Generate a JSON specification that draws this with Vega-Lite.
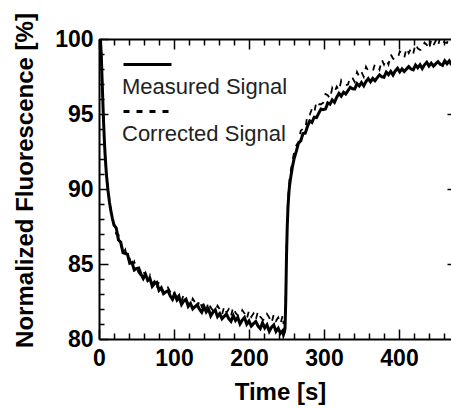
{
  "$schema": "https://vega.github.io/schema/vega-lite/v6.json",
  "width": 354,
  "height": 300,
  "autosize": {"type": "none"},
  "padding": {"left": 99, "top": 39, "right": 0, "bottom": 69},
  "background": "white",
  "config": {
    "view": {"stroke": null},
    "font": "Liberation Sans",
    "axis": {
      "grid": false,
      "domainColor": "black",
      "domainWidth": 2,
      "tickColor": "black",
      "tickWidth": 1.5,
      "labelFont": "Liberation Sans",
      "labelFontWeight": "bold",
      "labelFontSize": 23,
      "labelColor": "black",
      "labelOverlap": false,
      "labelFlush": false,
      "titleFont": "Liberation Sans",
      "titleFontWeight": "bold",
      "titleFontSize": 24,
      "titleColor": "black"
    }
  },
  "data": {
    "values": [
      {"t": 0, "m": 100, "c": 100},
      {"t": 1, "m": 100, "c": 100},
      {"t": 2, "m": 99.9, "c": 99.9},
      {"t": 3, "m": 99.0, "c": 99.0},
      {"t": 4, "m": 97.5, "c": 97.6},
      {"t": 5, "m": 96.0, "c": 96.1},
      {"t": 6, "m": 94.6, "c": 94.7},
      {"t": 7, "m": 93.4, "c": 93.5},
      {"t": 8, "m": 92.4, "c": 92.5},
      {"t": 9, "m": 91.6, "c": 91.6},
      {"t": 10, "m": 90.9, "c": 90.9},
      {"t": 12, "m": 89.9, "c": 89.9},
      {"t": 14, "m": 89.1, "c": 89.2},
      {"t": 16, "m": 88.5, "c": 88.5},
      {"t": 18, "m": 88.0, "c": 88.0},
      {"t": 20, "m": 87.6, "c": 87.6},
      {"t": 23, "m": 87.4, "c": 87.0},
      {"t": 26, "m": 86.6, "c": 86.95},
      {"t": 29, "m": 86.45, "c": 86.35},
      {"t": 32, "m": 85.75, "c": 85.7},
      {"t": 35, "m": 85.7, "c": 85.95},
      {"t": 38, "m": 85.65, "c": 85.3},
      {"t": 41, "m": 85.05, "c": 85.35},
      {"t": 44, "m": 85.1, "c": 84.75},
      {"t": 47, "m": 84.6, "c": 85.15},
      {"t": 50, "m": 84.7, "c": 84.7},
      {"t": 53, "m": 84.73, "c": 84.41},
      {"t": 56, "m": 84.32, "c": 84.22},
      {"t": 59, "m": 84.03, "c": 84.53},
      {"t": 62, "m": 84.32, "c": 84.21},
      {"t": 65, "m": 83.9, "c": 83.75},
      {"t": 68, "m": 84.03, "c": 84.23},
      {"t": 71, "m": 83.51, "c": 83.72},
      {"t": 74, "m": 83.69, "c": 83.86},
      {"t": 77, "m": 83.77, "c": 83.35},
      {"t": 80, "m": 83.25, "c": 83.84},
      {"t": 83, "m": 83.41, "c": 83.41},
      {"t": 86, "m": 83.02, "c": 83.18},
      {"t": 89, "m": 83.13, "c": 83.05},
      {"t": 92, "m": 83.22, "c": 83.42},
      {"t": 95, "m": 82.87, "c": 83.14},
      {"t": 98, "m": 82.64, "c": 82.7},
      {"t": 101, "m": 82.98, "c": 83.23},
      {"t": 104, "m": 82.6, "c": 82.76},
      {"t": 107, "m": 82.78, "c": 82.95},
      {"t": 110, "m": 82.3, "c": 82.48},
      {"t": 113, "m": 82.53, "c": 83.01},
      {"t": 116, "m": 82.65, "c": 82.6},
      {"t": 119, "m": 82.18, "c": 82.38},
      {"t": 122, "m": 82.37, "c": 82.28},
      {"t": 125, "m": 82.01, "c": 82.69},
      {"t": 128, "m": 82.16, "c": 82.44},
      {"t": 131, "m": 82.29, "c": 82.05},
      {"t": 134, "m": 81.98, "c": 82.61},
      {"t": 137, "m": 81.78, "c": 82.16},
      {"t": 140, "m": 82.15, "c": 82.37},
      {"t": 143, "m": 81.8, "c": 81.93},
      {"t": 146, "m": 82.0, "c": 82.48},
      {"t": 149, "m": 81.54, "c": 82.09},
      {"t": 152, "m": 81.79, "c": 81.9},
      {"t": 155, "m": 81.94, "c": 81.81},
      {"t": 158, "m": 81.49, "c": 82.22},
      {"t": 161, "m": 81.69, "c": 81.98},
      {"t": 164, "m": 81.35, "c": 81.61},
      {"t": 167, "m": 81.51, "c": 82.18},
      {"t": 170, "m": 81.66, "c": 81.76},
      {"t": 173, "m": 81.36, "c": 81.98},
      {"t": 176, "m": 81.18, "c": 81.55},
      {"t": 179, "m": 81.56, "c": 82.13},
      {"t": 182, "m": 81.23, "c": 81.75},
      {"t": 185, "m": 81.44, "c": 81.58},
      {"t": 188, "m": 81.0, "c": 81.5},
      {"t": 191, "m": 81.26, "c": 81.92},
      {"t": 194, "m": 81.43, "c": 81.71},
      {"t": 197, "m": 80.99, "c": 81.33},
      {"t": 200, "m": 81.2, "c": 81.9},
      {"t": 203, "m": 80.86, "c": 81.47},
      {"t": 206, "m": 81.03, "c": 81.7},
      {"t": 209, "m": 81.17, "c": 81.28},
      {"t": 212, "m": 80.87, "c": 81.85},
      {"t": 215, "m": 80.69, "c": 81.48},
      {"t": 218, "m": 81.08, "c": 81.31},
      {"t": 221, "m": 80.74, "c": 81.23},
      {"t": 224, "m": 80.95, "c": 81.66},
      {"t": 227, "m": 80.51, "c": 81.43},
      {"t": 230, "m": 80.78, "c": 81.06},
      {"t": 233, "m": 80.94, "c": 81.64},
      {"t": 236, "m": 80.5, "c": 81.21},
      {"t": 239, "m": 80.71, "c": 81.44},
      {"t": 242, "m": 80.38, "c": 81.02},
      {"t": 245, "m": 80.55, "c": 81.6},
      {"t": 246, "m": 80.3, "c": 81.0},
      {"t": 247, "m": 80.45, "c": 81.2},
      {"t": 248, "m": 80.7, "c": 81.3},
      {"t": 249, "m": 82.5, "c": 83.0},
      {"t": 250, "m": 85.5, "c": 86.0},
      {"t": 251, "m": 87.5, "c": 88.0},
      {"t": 252, "m": 88.8, "c": 89.2},
      {"t": 253, "m": 89.6, "c": 90.0},
      {"t": 254, "m": 90.2, "c": 90.6},
      {"t": 256, "m": 90.9, "c": 91.3},
      {"t": 258, "m": 91.5, "c": 91.9},
      {"t": 260, "m": 92.0, "c": 92.4},
      {"t": 263, "m": 92.5, "c": 92.9},
      {"t": 266, "m": 93.06, "c": 93.12},
      {"t": 269, "m": 93.21, "c": 93.89},
      {"t": 272, "m": 93.7, "c": 94.01},
      {"t": 275, "m": 93.72, "c": 93.98},
      {"t": 278, "m": 94.18, "c": 94.98},
      {"t": 281, "m": 94.54, "c": 94.95},
      {"t": 284, "m": 94.44, "c": 95.35},
      {"t": 287, "m": 94.79, "c": 95.1},
      {"t": 290, "m": 94.76, "c": 95.85},
      {"t": 293, "m": 95.05, "c": 95.65},
      {"t": 296, "m": 95.33, "c": 95.65},
      {"t": 299, "m": 95.29, "c": 95.75},
      {"t": 302, "m": 95.33, "c": 96.33},
      {"t": 305, "m": 95.74, "c": 96.25},
      {"t": 308, "m": 95.65, "c": 96.02},
      {"t": 311, "m": 95.94, "c": 96.74},
      {"t": 314, "m": 95.78, "c": 96.46},
      {"t": 317, "m": 96.12, "c": 96.83},
      {"t": 320, "m": 96.38, "c": 96.55},
      {"t": 323, "m": 96.19, "c": 97.24},
      {"t": 326, "m": 96.45, "c": 96.98},
      {"t": 329, "m": 96.33, "c": 96.92},
      {"t": 332, "m": 96.56, "c": 96.96},
      {"t": 335, "m": 96.78, "c": 97.5},
      {"t": 338, "m": 96.68, "c": 97.39},
      {"t": 341, "m": 96.67, "c": 97.13},
      {"t": 344, "m": 97.02, "c": 97.8},
      {"t": 347, "m": 96.87, "c": 97.48},
      {"t": 350, "m": 97.1, "c": 97.8},
      {"t": 353, "m": 96.88, "c": 97.48},
      {"t": 356, "m": 97.16, "c": 98.15},
      {"t": 359, "m": 97.36, "c": 97.88},
      {"t": 362, "m": 97.14, "c": 97.8},
      {"t": 365, "m": 97.37, "c": 97.83},
      {"t": 368, "m": 97.22, "c": 98.35},
      {"t": 371, "m": 97.42, "c": 98.23},
      {"t": 374, "m": 97.61, "c": 97.95},
      {"t": 377, "m": 97.48, "c": 98.63},
      {"t": 380, "m": 97.45, "c": 98.3},
      {"t": 383, "m": 97.79, "c": 98.63},
      {"t": 386, "m": 97.62, "c": 98.3},
      {"t": 389, "m": 97.84, "c": 98.98},
      {"t": 392, "m": 97.6, "c": 98.7},
      {"t": 395, "m": 97.87, "c": 98.63},
      {"t": 398, "m": 98.05, "c": 98.65},
      {"t": 401, "m": 97.81, "c": 99.17},
      {"t": 404, "m": 98.01, "c": 99.03},
      {"t": 407, "m": 97.83, "c": 98.74},
      {"t": 410, "m": 98.0, "c": 99.4},
      {"t": 413, "m": 98.16, "c": 99.06},
      {"t": 416, "m": 98.0, "c": 99.37},
      {"t": 419, "m": 97.94, "c": 99.03},
      {"t": 422, "m": 98.26, "c": 99.68},
      {"t": 425, "m": 98.08, "c": 99.38},
      {"t": 428, "m": 98.28, "c": 99.27},
      {"t": 431, "m": 98.03, "c": 99.27},
      {"t": 434, "m": 98.28, "c": 99.76},
      {"t": 437, "m": 98.45, "c": 99.61},
      {"t": 440, "m": 98.2, "c": 99.3},
      {"t": 443, "m": 98.39, "c": 99.95},
      {"t": 446, "m": 98.19, "c": 99.59},
      {"t": 449, "m": 98.35, "c": 99.89},
      {"t": 452, "m": 98.49, "c": 99.53},
      {"t": 455, "m": 98.32, "c": 100.15},
      {"t": 458, "m": 98.24, "c": 99.87},
      {"t": 461, "m": 98.55, "c": 99.76},
      {"t": 464, "m": 98.35, "c": 99.74},
      {"t": 467, "m": 98.54, "c": 100.2},
      {"t": 470, "m": 98.27, "c": 100.05}
    ]
  },
  "layer": [
    {
      "mark": {"type": "line", "clip": true, "color": "black", "strokeWidth": 1.8},
      "encoding": {
        "x": {
          "field": "t", "type": "quantitative",
          "scale": {"domain": [0, 472], "nice": false, "zero": false},
          "axis": {
            "orient": "top",
            "values": [0, 20, 40, 60, 80, 100, 120, 140, 160, 180, 200, 220, 240, 260, 280, 300, 320, 340, 360, 380, 400, 420, 440, 460],
            "labels": false,
            "title": null,
            "tickSize": {"condition": {"test": "datum.value % 100 === 0", "value": -10}, "value": -6}
          }
        },
        "y": {
          "field": "c", "type": "quantitative",
          "scale": {"domain": [80, 100], "nice": false, "zero": false},
          "axis": {
            "orient": "right",
            "values": [85, 90, 95],
            "labels": false,
            "title": null,
            "tickSize": -6
          }
        },
        "strokeDash": {
          "datum": "Corrected Signal", "type": "nominal",
          "scale": {"domain": ["Measured Signal", "Corrected Signal"], "range": [[1, 0], [6, 7]]},
          "legend": {
            "orient": "none",
            "legendX": 35,
            "legendY": 12,
            "title": null,
            "padding": 0,
            "symbolType": "M-2,0H2",
            "symbolSize": 576,
            "symbolStrokeColor": "black",
            "symbolStrokeWidth": 3,
            "labelFont": "Liberation Sans",
            "labelFontSize": 22,
            "labelColor": "#222222",
            "labelLimit": 0,
            "labelOffset": 0,
            "rowPadding": -4,
            "encoding": {
              "labels": {"dx": {"value": -39}, "dy": {"value": 22}}
            }
          }
        }
      }
    },
    {
      "mark": {"type": "line", "clip": true, "color": "black", "strokeWidth": 3},
      "encoding": {
        "x": {
          "field": "t", "type": "quantitative",
          "axis": {
            "orient": "bottom",
            "values": [0, 20, 40, 60, 80, 100, 120, 140, 160, 180, 200, 220, 240, 260, 280, 300, 320, 340, 360, 380, 400, 420, 440, 460],
            "labelExpr": "datum.value % 100 === 0 ? datum.label : ''",
            "labelPadding": 18,
            "title": "Time [s]",
            "titleX": 181,
            "titleY": 60,
            "titleBaseline": "alphabetic",
            "tickSize": {"condition": {"test": "datum.value % 100 === 0", "value": -10}, "value": -6}
          }
        },
        "y": {
          "field": "m", "type": "quantitative",
          "axis": {
            "orient": "left",
            "values": [80, 81, 82, 83, 84, 85, 86, 87, 88, 89, 90, 91, 92, 93, 94, 95, 96, 97, 98, 99, 100],
            "labelExpr": "datum.value % 5 === 0 ? datum.label : ''",
            "labelPadding": 15,
            "title": "Normalized Fluorescence [%]",
            "titleX": -74,
            "titleY": 141,
            "titleAngle": -90,
            "titleAlign": "center",
            "titleBaseline": "middle",
            "tickSize": {"condition": {"test": "datum.value % 5 === 0", "value": -9}, "value": -5}
          }
        },
        "strokeDash": {"datum": "Measured Signal", "type": "nominal"}
      }
    }
  ],
  "resolve": {"axis": {"x": "independent", "y": "independent"}}
}
